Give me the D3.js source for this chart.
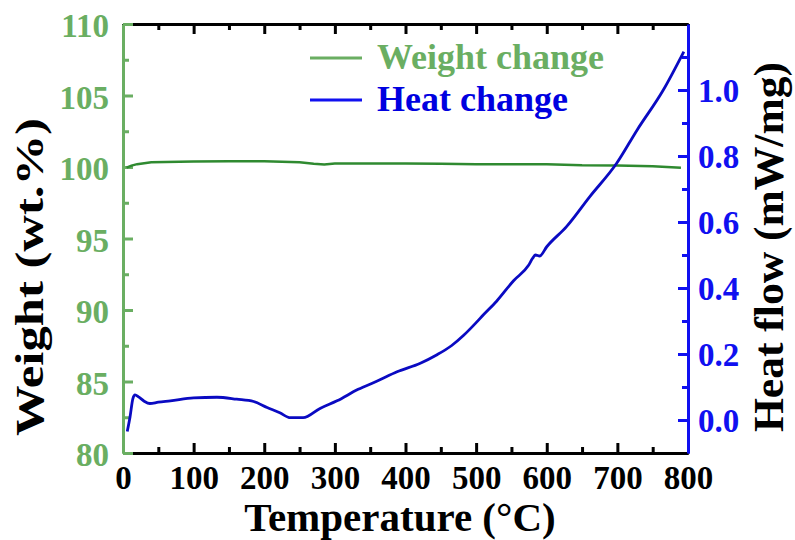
<!DOCTYPE html>
<html lang="en">
<head>
<meta charset="UTF-8">
<title>TGA / DSC</title>
<script src="https://cdn.jsdelivr.net/npm/d3@7"></script>
<style>
    body { margin: 0; padding: 0; background: #fff; }
    svg { display: block; font-family: "Liberation Serif", "Times New Roman", serif; font-weight: bold; }
</style>
</head>
<body>
<div id="chart"></div>
<script>
    // heat flow curve (temperature in C, mW/mg)
    var heatTemp = [6, 10, 14, 17, 22, 30, 38, 50, 67, 100, 133, 161, 185, 204, 222, 237, 255, 279, 303, 333,
        360, 388, 421, 444, 465, 482, 500, 510, 529, 553, 574, 580, 584, 590, 600, 628, 661, 699, 728, 765, 794];
    var heatFlow = [-0.035, 0.01, 0.065, 0.076, 0.07, 0.057, 0.05, 0.054, 0.058, 0.067, 0.069, 0.063, 0.056, 0.038,
        0.022, 0.007, 0.007, 0.035, 0.058, 0.093, 0.118, 0.146, 0.172, 0.197, 0.225, 0.256, 0.295, 0.318, 0.36, 0.422,
        0.468, 0.49, 0.5, 0.497, 0.525, 0.586, 0.677, 0.778, 0.879, 1.0, 1.116];

    // weight curve (temperature in C, wt.%)
    var weightTemp = [5, 12, 20, 40, 100, 150, 200, 250, 270, 285, 300, 350, 400, 450, 500, 550, 600, 650, 700, 750, 790];
    var weightPct = [99.95, 100.1, 100.2, 100.33, 100.38, 100.4, 100.4, 100.33, 100.22, 100.18, 100.24, 100.25,
        100.24, 100.22, 100.2, 100.2, 100.2, 100.12, 100.1, 100.05, 99.95];

    var xTicks = [0, 100, 200, 300, 400, 500, 600, 700, 800];
    var weightTicks = [80, 85, 90, 95, 100, 105, 110];
    var heatTicks = [0.0, 0.2, 0.4, 0.6, 0.8, 1.0];

    var legendNames = ["Weight change", "Heat change"];

    var W = 795, H = 540;
    var mLeft = 123, mRight = 688, mTop = 24, mBottom = 453;

    var green = "#6aae62", greenLine = "#2f8a30", blue = "#1010f0", blueLine = "#0a0ac2";

    var svg = d3.select("#chart").append("svg")
        .attr("width", W)
        .attr("height", H);

    var x = d3.scaleLinear().domain([0, 800]).range([mLeft, mRight]);
    var yW = d3.scaleLinear().domain([80, 110]).range([mBottom, mTop]);
    var yH = d3.scaleLinear().domain([-0.1, 1.2]).range([mBottom, mTop]);

    function styleAxis(g, color) {
        g.select(".domain").attr("stroke", color).attr("stroke-width", 3);
        g.selectAll(".tick line").attr("stroke", color).attr("stroke-width", 3);
        g.selectAll(".tick text").attr("fill", color)
            .style("font-family", "'Liberation Serif', serif")
            .style("font-weight", "bold")
            .style("font-size", "33px");
    }

    // minor ticks
    var minorX = d3.range(50, 800, 100);
    var minorW = d3.range(82.5, 110, 5);
    var minorH = d3.range(0.1, 1.15, 0.2);

    svg.append("g").attr("transform", "translate(0," + mBottom + ")")
        .call(d3.axisBottom(x).tickValues(minorX).tickSize(-6).tickSizeOuter(0).tickFormat(""))
        .call(styleAxis, "#000");
    svg.append("g").attr("transform", "translate(0," + mTop + ")")
        .call(d3.axisTop(x).tickValues(minorX).tickSize(-6).tickSizeOuter(0).tickFormat(""))
        .call(styleAxis, "#000");
    svg.append("g").attr("transform", "translate(" + mLeft + ",0)")
        .call(d3.axisLeft(yW).tickValues(minorW).tickSize(-6).tickSizeOuter(0).tickFormat(""))
        .call(styleAxis, green);
    svg.append("g").attr("transform", "translate(" + mRight + ",0)")
        .call(d3.axisRight(yH).tickValues(minorH).tickSize(-6).tickSizeOuter(0).tickFormat(""))
        .call(styleAxis, blue);

    // major ticks + labels
    svg.append("g").attr("transform", "translate(0," + mTop + ")")
        .call(d3.axisTop(x).tickValues(xTicks).tickSize(-10).tickSizeOuter(0).tickFormat(""))
        .call(styleAxis, "#000");

    var xAxis = svg.append("g").attr("transform", "translate(0," + mBottom + ")")
        .call(d3.axisBottom(x).tickValues(xTicks).tickSize(-10).tickSizeOuter(0).tickFormat(d3.format("d")))
        .call(styleAxis, "#000");
    xAxis.selectAll(".tick text").attr("dy", null).attr("y", 36);

    var wAxis = svg.append("g").attr("transform", "translate(" + mLeft + ",0)")
        .call(d3.axisLeft(yW).tickValues(weightTicks).tickSize(-10).tickSizeOuter(0).tickPadding(14).tickFormat(d3.format("d")))
        .call(styleAxis, green);
    wAxis.selectAll(".tick text").attr("dy", "0.38em");

    var hAxis = svg.append("g").attr("transform", "translate(" + mRight + ",0)")
        .call(d3.axisRight(yH).tickValues(heatTicks).tickSize(-10).tickSizeOuter(0).tickPadding(10).tickFormat(d3.format(".1f")))
        .call(styleAxis, blue);
    hAxis.selectAll(".tick text").attr("dy", "0.36em");

    // curves
    var weightData = weightTemp.map(function (t, i) { return [t, weightPct[i]]; });
    var heatData = heatTemp.map(function (t, i) { return [t, heatFlow[i]]; });

    svg.append("path")
        .datum(weightData)
        .attr("fill", "none")
        .attr("stroke", greenLine)
        .attr("stroke-width", 2.5)
        .attr("d", d3.line().x(function (d) { return x(d[0]); }).y(function (d) { return yW(d[1]); }));

    svg.append("path")
        .datum(heatData)
        .attr("fill", "none")
        .attr("stroke", blueLine)
        .attr("stroke-width", 2.8)
        .attr("stroke-linejoin", "round")
        .attr("d", d3.line().curve(d3.curveMonotoneX).x(function (d) { return x(d[0]); }).y(function (d) { return yH(d[1]); }));

    // legend
    var legend = svg.append("g");
    var legColors = [green, blue], legText = ["#6aae62", "#0000e0"], legY = [58, 100];
    legendNames.forEach(function (name, i) {
        legend.append("line")
            .attr("x1", 310).attr("x2", 362)
            .attr("y1", legY[i]).attr("y2", legY[i])
            .attr("stroke", legColors[i]).attr("stroke-width", 3);
        legend.append("text")
            .attr("x", 377).attr("y", legY[i] + 11)
            .attr("fill", legText[i])
            .style("font-size", "36px")
            .text(name);
    });

    // axis titles
    svg.append("text")
        .attr("x", 400).attr("y", 531)
        .attr("text-anchor", "middle")
        .style("font-size", "41px")
        .text("Temperature (°C)");

    svg.append("text")
        .attr("transform", "translate(43,277) rotate(-90)")
        .attr("text-anchor", "middle")
        .attr("textLength", 318)
        .attr("lengthAdjust", "spacingAndGlyphs")
        .style("font-size", "41px")
        .text("Weight (wt.%)");

    svg.append("text")
        .attr("transform", "translate(783,247) rotate(-90)")
        .attr("text-anchor", "middle")
        .attr("textLength", 370)
        .attr("lengthAdjust", "spacingAndGlyphs")
        .style("font-size", "42px")
        .text("Heat flow (mW/mg)");
</script>
</body>
</html>
